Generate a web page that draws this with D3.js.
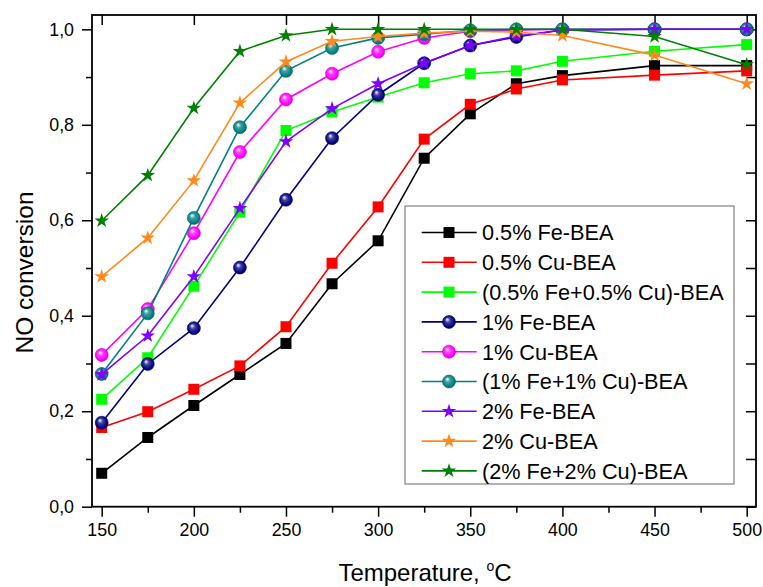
<!DOCTYPE html>
<html>
<head>
<meta charset="utf-8">
<script src="https://cdn.jsdelivr.net/npm/d3@7"></script>
<style>
  html, body { margin: 0; padding: 0; background: #fff; }
  svg { display: block; font-family: "Liberation Sans", Arial, sans-serif; }
</style>
</head>
<body>
<svg id="chart" width="763" height="587"></svg>
<script>
// ---------- Data ----------
const temperatures = [150, 175, 200, 225, 250, 275, 300, 325, 350, 375, 400, 450, 500];

const seriesNames = [
  "0.5% Fe-BEA", "0.5% Cu-BEA", "(0.5% Fe+0.5% Cu)-BEA",
  "1% Fe-BEA", "1% Cu-BEA", "(1% Fe+1% Cu)-BEA",
  "2% Fe-BEA", "2% Cu-BEA", "(2% Fe+2% Cu)-BEA"
];
const seriesColors = ["#000000", "#ff0000", "#00ff00", "#000080", "#ff00ff", "#008080", "#7f00ff", "#ff8a1c", "#008000"];
const seriesMarkers = ["square", "square", "square", "circle", "circle", "circle", "star", "star", "star"];

const fe05   = [0.070, 0.145, 0.212, 0.277, 0.342, 0.467, 0.557, 0.730, 0.823, 0.886, 0.903, 0.924, 0.924];
const cu05   = [0.166, 0.199, 0.246, 0.295, 0.377, 0.510, 0.628, 0.770, 0.843, 0.875, 0.894, 0.904, 0.913];
const fecu05 = [0.225, 0.312, 0.462, 0.617, 0.788, 0.827, 0.858, 0.888, 0.907, 0.913, 0.933, 0.954, 0.968];
const fe1    = [0.176, 0.299, 0.374, 0.501, 0.643, 0.772, 0.863, 0.929, 0.966, 0.984, 0.999, 1.000, 1.000];
const cu1    = [0.318, 0.414, 0.573, 0.743, 0.853, 0.907, 0.953, 0.982, 0.996, 0.998, 1.000, 1.000, 1.000];
const fecu1  = [0.278, 0.405, 0.605, 0.795, 0.913, 0.961, 0.982, 0.990, 0.998, 1.000, 1.000, 1.000, 1.000];
const fe2    = [0.277, 0.358, 0.482, 0.625, 0.765, 0.834, 0.886, 0.929, 0.966, 0.986, 0.998, 1.000, 1.000];
const cu2    = [0.482, 0.563, 0.683, 0.846, 0.932, 0.975, 0.985, 0.992, 0.996, 0.994, 0.987, 0.946, 0.886];
const fecu2  = [0.599, 0.694, 0.835, 0.954, 0.987, 1.000, 1.000, 1.000, 1.000, 1.000, 1.000, 0.985, 0.926];

const seriesValues = [fe05, cu05, fecu05, fe1, cu1, fecu1, fe2, cu2, fecu2];

const xTickValues = [150, 200, 250, 300, 350, 400, 450, 500];
const xMinorTickValues = [175, 225, 275, 325, 375, 425, 475];
const yTickValues = [0, 0.2, 0.4, 0.6, 0.8, 1.0];
const yMinorTickValues = [0.1, 0.3, 0.5, 0.7, 0.9];

// ---------- Layout ----------
const svg = d3.select("#chart");
const L = 92, R = 756, T = 15, B = 506.7;

const x = d3.scaleLinear().domain([144.74, 505.05]).range([L, R]);
const y = d3.scaleLinear().domain([0, 1.03]).range([B, T]);

const fmtY = d => d3.format(".1f")(d).replace(".", ",");

// gradients for sphere markers
const defs = svg.append("defs");
seriesColors.forEach((c, i) => {
  const g = defs.append("radialGradient")
    .attr("id", "grad" + i)
    .attr("cx", "50%").attr("cy", "50%").attr("r", "55%")
    .attr("fx", "35%").attr("fy", "30%");
  g.append("stop").attr("offset", "0%").attr("stop-color", "#ffffff");
  g.append("stop").attr("offset", "35%").attr("stop-color", d3.interpolateRgb(c, "#fff")(0.25));
  g.append("stop").attr("offset", "80%").attr("stop-color", c);
  g.append("stop").attr("offset", "100%").attr("stop-color", d3.interpolateRgb(c, "#000")(0.35));
});

// ---------- Axes ----------
const axisStyle = g => {
  g.selectAll("path.domain").remove();
  g.selectAll("line").attr("stroke", "#000").attr("stroke-width", 1.5);
  g.selectAll("text").attr("fill", "#000").style("font-family", "'Liberation Sans', Arial, sans-serif");
};

// bottom major
svg.append("g").attr("transform", `translate(0,${B})`)
  .call(d3.axisBottom(x).tickValues(xTickValues).tickSize(10).tickPadding(7).tickFormat(d3.format("d")))
  .call(axisStyle)
  .call(g => g.selectAll("text").style("font-size", "17.8px"));
// bottom minor
svg.append("g").attr("transform", `translate(0,${B})`)
  .call(d3.axisBottom(x).tickValues(xMinorTickValues.filter(v => v < 505)).tickSize(6).tickFormat(""))
  .call(axisStyle);
// top major (inward)
svg.append("g").attr("transform", `translate(0,${T})`)
  .call(d3.axisBottom(x).tickValues(xTickValues).tickSize(10).tickFormat(""))
  .call(axisStyle);
// left major
svg.append("g").attr("transform", `translate(${L},0)`)
  .call(d3.axisLeft(y).tickValues(yTickValues).tickSize(10).tickPadding(8).tickFormat(fmtY))
  .call(axisStyle)
  .call(g => g.selectAll("text").style("font-size", "17.8px"));
// left minor
svg.append("g").attr("transform", `translate(${L},0)`)
  .call(d3.axisLeft(y).tickValues(yMinorTickValues).tickSize(6).tickFormat(""))
  .call(axisStyle);
// right (inward) all
svg.append("g").attr("transform", `translate(${R},0)`)
  .call(d3.axisLeft(y).tickValues(yTickValues.concat(yMinorTickValues)).tickSize(10).tickFormat(""))
  .call(axisStyle);

// frame
svg.append("rect")
  .attr("x", L).attr("y", T).attr("width", R - L).attr("height", B - T)
  .attr("fill", "none").attr("stroke", "#000").attr("stroke-width", 1.8);

// axis titles
const xt = svg.append("text")
  .attr("x", (L + R) / 2 + 1).attr("y", 581)
  .attr("text-anchor", "middle")
  .style("font-size", "24px").attr("fill", "#000");
xt.append("tspan").text("Temperature, ");
xt.append("tspan").text("o").attr("dy", -10).style("font-size", "14px");
xt.append("tspan").text("C").attr("dy", 10);

svg.append("text")
  .attr("transform", `translate(33,272.5) rotate(-90)`)
  .attr("text-anchor", "middle")
  .style("font-size", "24.5px").attr("fill", "#000")
  .text("NO conversion");

// ---------- Markers ----------
const starPath = d3.symbol().type(d3.symbolStar).size(66)();
function drawMarker(g, type, i, cx, cy) {
  const c = seriesColors[i];
  if (type === "square") {
    g.append("rect").attr("x", cx - 5.5).attr("y", cy - 5.5).attr("width", 11).attr("height", 11).attr("fill", c);
  } else if (type === "circle") {
    g.append("circle").attr("cx", cx).attr("cy", cy).attr("r", 6.5)
      .attr("fill", `url(#grad${i})`)
      .attr("stroke", d3.interpolateRgb(c, "#000")(0.2)).attr("stroke-width", 0.6);
  } else {
    g.append("path").attr("d", starPath).attr("transform", `translate(${cx},${cy})`).attr("fill", c);
  }
}

// ---------- Series ----------
const line = d3.line().x(d => x(d[0])).y(d => y(d[1]));
const plot = svg.append("g");
seriesValues.forEach((vals, i) => {
  const pts = temperatures.map((t, k) => [t, vals[k]]);
  const g = plot.append("g");
  g.append("path").attr("d", line(pts)).attr("fill", "none")
    .attr("stroke", seriesColors[i]).attr("stroke-width", 1.6);
  pts.forEach(p => drawMarker(g, seriesMarkers[i], i, x(p[0]), y(p[1])));
});

// ---------- Legend ----------
const lg = svg.append("g");
lg.append("rect").attr("x", 405).attr("y", 206).attr("width", 329).attr("height", 278)
  .attr("fill", "#fff").attr("stroke", "#808080").attr("stroke-width", 1.2);
seriesNames.forEach((name, i) => {
  const cy = 232.5 + i * 29.8;
  lg.append("line").attr("x1", 421.7).attr("x2", 476.7).attr("y1", cy).attr("y2", cy)
    .attr("stroke", seriesColors[i]).attr("stroke-width", 1.6);
  drawMarker(lg, seriesMarkers[i], i, 449, cy);
  lg.append("text").attr("x", 482).attr("y", cy + 7.8)
    .style("font-size", "21.7px").attr("fill", "#000").text(name);
});
</script>
</body>
</html>
